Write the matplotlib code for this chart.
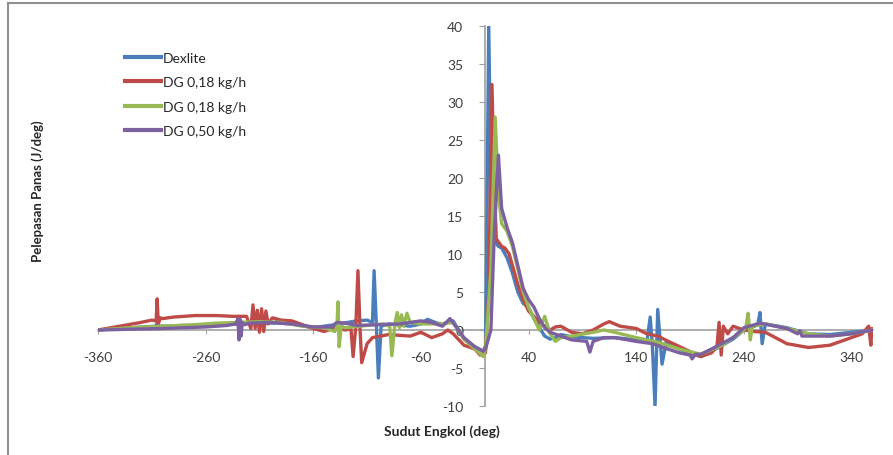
import matplotlib
matplotlib.use("Agg")
import matplotlib.pyplot as plt
from matplotlib.lines import Line2D

plt.rcParams['font.family'] = ['Lato', 'DejaVu Sans']

series_names = ["Dexlite", "DG 0,18 kg/h", "DG 0,18 kg/h", "DG 0,50 kg/h"]
series_colors = ["#4A7EBB", "#BE4B48", "#98B954", "#7D60A0"]

dexlite_x = [-360, -330, -306, -305, -304, -280, -260, -230, -200, -195, -194, -193, -180, -160, -140, -120, -110, -105,
             -103.5, -101.5, -99.5, -97, -90, -70, -60, -54, -45, -40, -30, -20, -10, -2, 0, 1, 3, 5, 7, 12, 15, 20,
             25, 30, 35, 40, 45, 50, 55, 60, 65, 70, 80, 100, 120, 140, 150, 153, 155, 157.5, 160, 164, 168, 180, 200,
             210, 230, 240, 250, 253, 255, 257, 260, 280, 300, 320, 340, 360]
dexlite_y = [0, 0.3, 0.5, 1.0, 0.5, 0.6, 0.6, 0.8, 0.9, 0.9, 1.3, 0.9, 0.8, 0.3, 0.7, 1.2, 1.3, 1.0,
             7.8, 1.0, -6.3, 0.5, 0.8, 0.5, 0.8, 1.4, 0.9, 0.8, 1.2, -1.2, -2.2, -2.8, -2.0, 10, 40, 20, 12, 11, 10.8, 9.5,
             7.5, 5.0, 3.5, 3.0, 1.5, 0.3, -0.8, -1.2, -1.0, -0.6, -0.9, -1.1, -1.0, -1.3, -1.5, 1.7, -2.0, -10, 2.7, -4.5, -1.5, -2.5, -3.5,
             -2.8, -1.2, 0.0, 0.5, 0.8, 2.3, -1.8, 0.8, 0.3, -0.5, -0.6, -0.3, 0]

dg1_x = [-360, -340, -320, -310, -306, -305, -304, -302, -300, -290, -270, -250, -235, -222, -218, -216, -214, -212,
         -210, -208, -206, -204, -202, -198, -195, -190, -180, -160, -150, -140, -130, -125, -123, -120.5, -118.5,
         -116.5, -115, -110, -105, -90, -70, -60, -50, -40, -35, -30, -20, -10, -5, 0, 3, 6, 8, 10, 15, 18, 22, 26,
         30, 35, 40, 45, 50, 55, 60, 65, 70, 80, 90, 100, 110, 115, 125, 140, 150, 160, 170, 185, 200, 210, 215, 217,
         219, 221, 225, 230, 240, 250, 260, 280, 300, 320, 340, 350, 356, 358, 359]
dg1_y = [0, 0.5, 1.0, 1.3, 1.2, 4.1, 0.8, 1.6, 1.5, 1.7, 1.9, 1.9, 1.8, 1.8, 0.2, 3.3, 0.2, 2.6,
         -0.3, 2.8, -0.2, 2.5, 0.8, 1.6, 1.5, 1.3, 1.2, 0.2, -0.2, 0.3, 0.0, 0.2, -3.5, 0.5, 7.8,
         0.0, -4.3, -1.8, -1.0, -0.6, -0.8, -0.3, -1.0, -0.5, 0.0, -0.5, -2.0, -2.5, -3.3, -3.0, 5, 32.3, 20, 12, 11, 10.8, 10, 8,
         6, 4, 2.5, 1.8, 1.0, 0.5, 0.0, 0.4, 0.5, -0.3, -0.5, 0.0, 0.8, 1.1, 0.5, 0.2, -0.5, -0.8, -1.5, -2.5, -3.5, -3.0, -2.2, 1.0,
         -3.3, 0.5, -0.5, 0.5, 0.0, -0.2, -0.3, -1.8, -2.3, -2.0, -1.0, -0.5, 0.5, -2.0, 0.2]

dg2_x = [-360, -330, -300, -270, -250, -230, -210, -190, -170, -150, -140, -138, -137, -136, -134, -130, -110, -95,
         -89, -87, -84, -82, -80, -78, -76, -73, -70, -60, -40, -30, -20, -10, -2, 0, 5, 9, 12, 15, 20, 25, 30, 35,
         40, 45, 50, 55, 60, 65, 70, 80, 100, 110, 120, 140, 160, 180, 200, 220, 240, 242, 244, 246, 248, 260, 280,
         300, 320, 340, 360]
dg2_y = [0, 0.3, 0.5, 0.7, 0.9, 1.0, 1.1, 1.0, 0.5, 0.3, -0.2, 0.5, 3.7, -2.2, 0.5, 0.3, 0.6, 0.8,
         0.5, -3.4, 1.0, 2.3, 0.3, 2.0, 0.5, 2.2, 1.0, 0.8, 0.8, 1.0, -1.2, -2.5, -3.5, -2.5, 8, 28, 18, 14, 13, 11, 8, 5,
         3, 1.5, 0.0, 1.8, -0.5, -1.5, -1.0, -0.8, -0.3, 0.0, -0.3, -1.0, -1.6, -2.5, -3.2, -2.0, 0.0, 0.5, 2.2, -1.3, 0.5, 0.8, 0.2,
         -0.5, -0.8, -0.5, 0]

dg3_x = [-360, -300, -260, -240, -232, -230, -229, -228, -227, -226, -224, -220, -200, -180, -160, -150, -142, -140,
         -138, -130, -120, -100, -80, -60, -50, -40, -33, -20, -10, -2, 0, 5, 8, 12, 15, 20, 25, 30, 35, 40, 45, 50,
         55, 60, 70, 80, 94, 97, 100, 110, 120, 140, 155, 165, 180, 190, 192, 195, 200, 210, 230, 240, 255, 280, 290,
         292, 294, 300, 320, 340, 360]
dg3_y = [0, 0.2, 0.4, 0.6, 0.8, 1.5, -1.3, 1.4, -0.8, 1.0, 0.7, 0.9, 1.0, 0.8, 0.4, 0.4, 0.4, 0.8,
         1.0, 0.9, 0.6, 0.7, 0.8, 1.2, 1.0, 0.5, 1.5, -1.0, -2.2, -2.8, -2.5, 0, 12, 23, 16, 13.5, 11.5, 8.5, 5.5, 4, 3, 1.5,
         0.3, -0.3, -0.8, -1.3, -1.5, -2.9, -1.5, -1.0, -1.0, -1.5, -1.8, -2.3, -3.0, -3.3, -3.8, -3.2, -3.2, -2.5, -1.0, 0.3, 0.9, 0.2, -0.5,
         -0.1, -0.8, -0.8, -0.8, -0.5, 0]

x_ticks = [-360, -260, -160, -60, 40, 140, 240, 340]
y_ticks = [-10, -5, 0, 5, 10, 15, 20, 25, 30, 35, 40]

fig = plt.figure(figsize=(8.93, 4.56), dpi=100)
ax = fig.add_axes([98 / 893, 1 - 407 / 456, 775 / 893, 380 / 456])

all_x = [dexlite_x, dg1_x, dg2_x, dg3_x]
all_y = [dexlite_y, dg1_y, dg2_y, dg3_y]
for xs, ys, name, col in zip(all_x, all_y, series_names, series_colors):
    ax.plot(xs, ys, color=col, lw=2.4, label=name, solid_joinstyle='round', solid_capstyle='round')

ax.set_xlim(-360, 360)
ax.set_ylim(-10, 40)
ax.set_xticks(x_ticks)
ax.set_yticks(y_ticks)
ax.set_xticklabels([str(v) for v in x_ticks])
ax.set_yticklabels([str(v) for v in y_ticks])

for s in ['top', 'right']:
    ax.spines[s].set_visible(False)
ax.spines['left'].set_position(('data', 0))
ax.spines['bottom'].set_position(('data', 0))
for s in ['left', 'bottom']:
    ax.spines[s].set_color('#A0A0A0')
    ax.spines[s].set_linewidth(1.2)
ax.spines['left'].set_zorder(0)
ax.spines['bottom'].set_zorder(0)

ax.tick_params(axis='y', direction='out', length=4, color='#A0A0A0', pad=12, labelsize=10, labelcolor='#404040')
ax.tick_params(axis='x', direction='out', length=3, color='#A0A0A0', pad=12, labelsize=10, labelcolor='#404040')

fig.text(38 / 893, 1 - 191 / 456, "Pelepasan Panas (J/deg)", rotation=90, ha='center', va='center',
         fontsize=9.5, fontweight='bold', color='#262626')
fig.text(442 / 893, 1 - 432 / 456, "Sudut Engkol (deg)", ha='center', va='center',
         fontsize=10, fontweight='bold', color='#262626')

handles = [Line2D([0], [0], color=c, lw=3) for c in series_colors]
fig.legend(handles, series_names, loc='upper left', bbox_to_anchor=(112 / 893, 1 - 40 / 456),
           frameon=False, fontsize=10, handlelength=2.6, handletextpad=0.15, labelspacing=0.9,
           labelcolor='#262626')

# outer frame
fig.add_artist(Line2D([8 / 893, 8 / 893], [0, 1 - 4 / 456], transform=fig.transFigure, color='#909090', lw=1.5))
fig.add_artist(Line2D([8 / 893, 1], [1 - 4 / 456, 1 - 4 / 456], transform=fig.transFigure, color='#909090', lw=1.5))

fig.savefig("out.png", dpi=100)
